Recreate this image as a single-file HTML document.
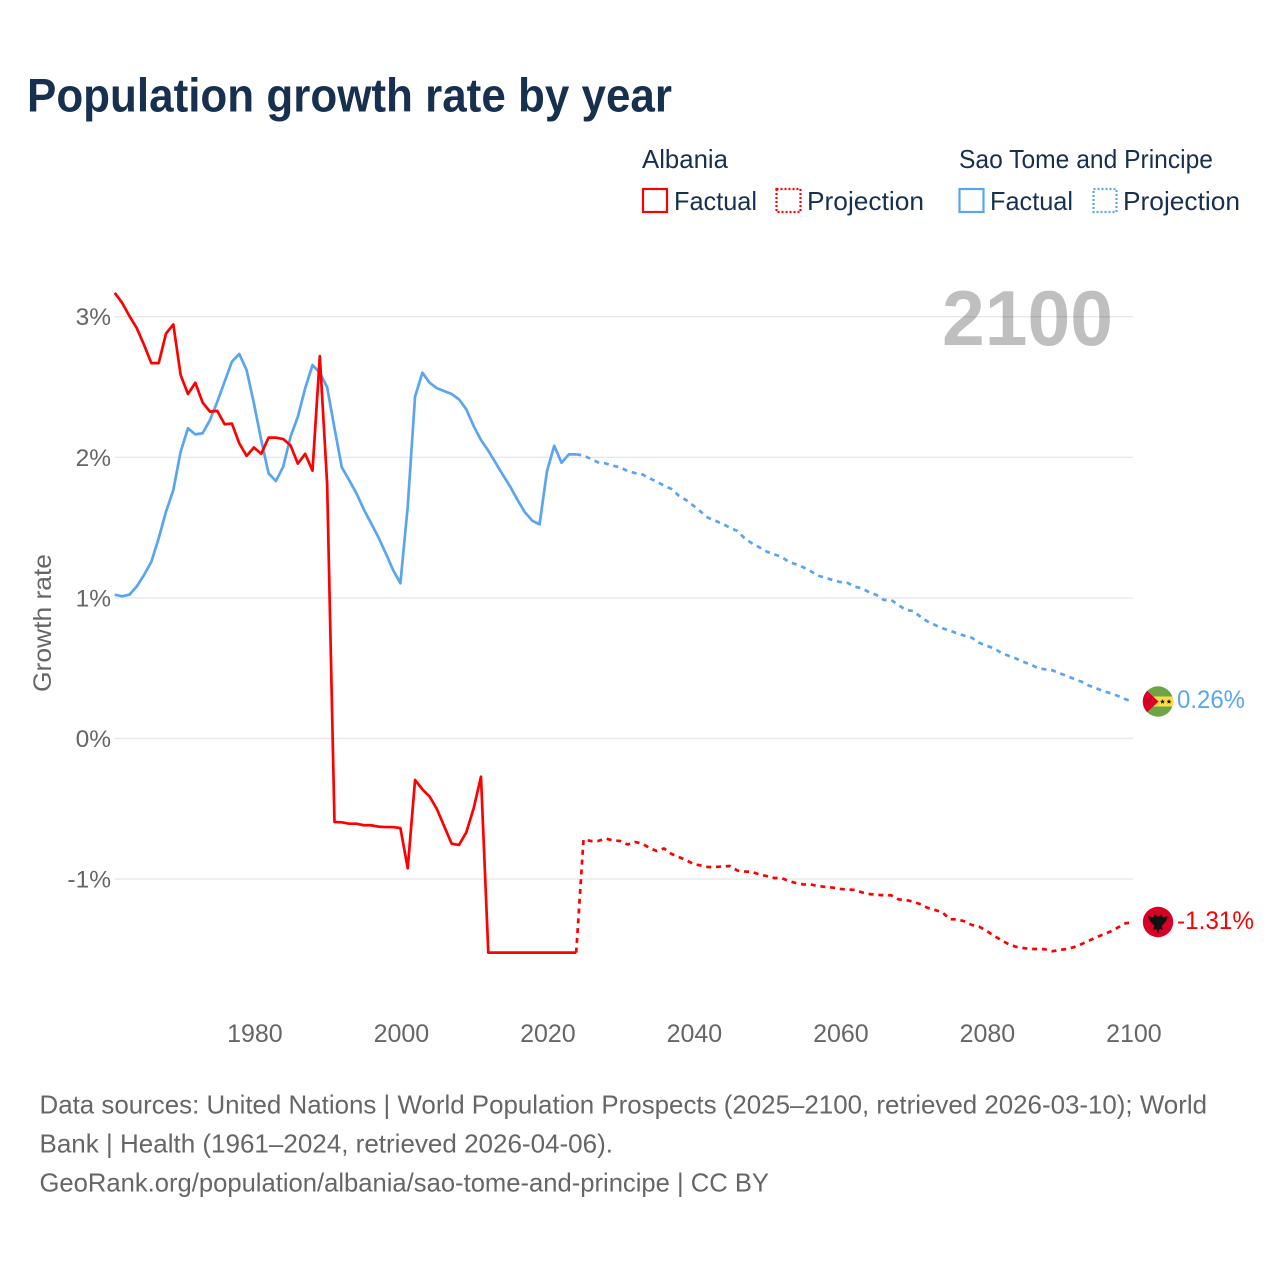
<!DOCTYPE html>
<html lang="en">
<head>
<meta charset="utf-8">
<title>Population growth rate by year</title>
<style>
html,body{margin:0;padding:0;background:#fff;}
svg{display:block;font-family:"Liberation Sans",sans-serif;}
</style>
</head>
<body>
<svg id="chart" xmlns="http://www.w3.org/2000/svg" width="1280" height="1280" viewBox="0 0 1280 1280">
  <rect width="1280" height="1280" fill="#fff"/>
  <text x="27" y="111.5" font-size="47" font-weight="700" fill="#18304f" textLength="645" lengthAdjust="spacingAndGlyphs">Population growth rate by year</text>

  <g font-size="26" fill="#18304f">
    <text x="642" y="168" textLength="86" lengthAdjust="spacingAndGlyphs">Albania</text>
    <text x="959" y="168" textLength="254" lengthAdjust="spacingAndGlyphs">Sao Tome and Principe</text>
    <g>
      <rect x="643" y="189" width="24" height="23" fill="none" stroke="#ff0000" stroke-width="2.2"/>
      <text x="674" y="210" textLength="83" lengthAdjust="spacingAndGlyphs">Factual</text>
    </g>
    <g>
      <rect x="776.5" y="189" width="24" height="23" fill="none" stroke="#ff0000" stroke-width="2.2" stroke-dasharray="2 2"/>
      <text x="807" y="210" textLength="117" lengthAdjust="spacingAndGlyphs">Projection</text>
    </g>
    <g>
      <rect x="959.5" y="189" width="24" height="23" fill="none" stroke="#5ba5ee" stroke-width="2.2"/>
      <text x="990" y="210" textLength="83" lengthAdjust="spacingAndGlyphs">Factual</text>
    </g>
    <g>
      <rect x="1093.5" y="189" width="23" height="23" fill="none" stroke="#5ba5ee" stroke-width="2.2" stroke-dasharray="2 2"/>
      <text x="1123" y="210" textLength="117" lengthAdjust="spacingAndGlyphs">Projection</text>
    </g>
  </g>

  <g id="grid"></g>
  <text x="942" y="345" font-size="78" font-weight="700" fill="#000" fill-opacity="0.25" textLength="171" lengthAdjust="spacingAndGlyphs">2100</text>
  <g id="yticks" font-size="24.5" fill="#666"></g>
  <g id="xticks" font-size="25" fill="#666"></g>
  <text transform="translate(51 692) rotate(-90)" font-size="25" fill="#666" textLength="138" lengthAdjust="spacingAndGlyphs">Growth rate</text>
  <g id="series"></g>

  <g id="flag-stp">
    <clipPath id="clip-stp"><circle cx="1158" cy="701.5" r="15.2"/></clipPath>
    <g clip-path="url(#clip-stp)">
      <rect x="1142" y="686" width="32" height="31" fill="#6da544"/>
      <rect x="1142" y="696.5" width="32" height="10" fill="#ffda44"/>
      <path d="M1142 686 L1158.5 701.5 L1142 717 Z" fill="#d80027"/>
      <path d="M1162.5 699.2 l.7 1.6 1.7.1 -1.3 1.1 .4 1.7 -1.5-.9 -1.5.9 .4-1.7 -1.3-1.1 1.7-.1z" fill="#111"/>
      <path d="M1169 699.2 l.7 1.6 1.7.1 -1.3 1.1 .4 1.7 -1.5-.9 -1.5.9 .4-1.7 -1.3-1.1 1.7-.1z" fill="#111"/>
    </g>
  </g>
  <g id="flag-alb">
    <circle cx="1158" cy="922" r="15.2" fill="#d80027"/>
    <path d="M1148 916 L1153 917.5 L1155 914 L1157 916.5 L1159 916.5 L1161 914 L1163 917.5 L1168 916 L1166 921 L1163.5 924 L1161.5 926 L1163 930 L1159.5 929 L1158 933.5 L1156.5 929 L1153 930 L1154.5 926 L1152.5 924 L1150 921 Z" fill="#111"/>
  </g>
  <text id="label-stp" x="1177" y="708" font-size="25" fill="#5ba5ee" textLength="68" lengthAdjust="spacingAndGlyphs">0.26%</text>
  <text id="label-alb" x="1177" y="929" font-size="25" fill="#ff0000" textLength="77" lengthAdjust="spacingAndGlyphs">-1.31%</text>

  <g font-size="26" fill="#666">
    <text x="39.5" y="1113.5" textLength="1167.5" lengthAdjust="spacingAndGlyphs">Data sources: United Nations | World Population Prospects (2025–2100, retrieved 2026-03-10); World</text>
    <text x="39.5" y="1152.5" textLength="573.5" lengthAdjust="spacingAndGlyphs">Bank | Health (1961–2024, retrieved 2026-04-06).</text>
    <text x="39.5" y="1191.5" textLength="729.5" lengthAdjust="spacingAndGlyphs">GeoRank.org/population/albania/sao-tome-and-principe | CC BY</text>
  </g>
</svg>
<script>
const yTickValues = [3, 2, 1, 0, -1];
const xTickYears = [1980, 2000, 2020, 2040, 2060, 2080, 2100];
const factualStartYear = 1961;
const projectionStartYear = 2024;
const albaniaFactual = [3.17,3.10,3.005,2.92,2.80,2.67,2.67,2.88,2.945,2.585,2.45,2.53,2.39,2.325,2.33,2.235,2.24,2.10,2.01,2.07,2.025,2.14,2.14,2.13,2.085,1.955,2.025,1.905,2.72,1.81,-0.594,-0.596,-0.606,-0.606,-0.617,-0.617,-0.627,-0.63,-0.63,-0.637,-0.923,-0.295,-0.361,-0.414,-0.504,-0.627,-0.748,-0.757,-0.667,-0.497,-0.272,-1.523,-1.523,-1.523,-1.523,-1.523,-1.523,-1.523,-1.523,-1.523,-1.523,-1.523,-1.523,-1.523];
const albaniaProjection = [-1.523,-0.718,-0.729,-0.729,-0.711,-0.725,-0.729,-0.754,-0.736,-0.747,-0.779,-0.800,-0.782,-0.821,-0.843,-0.864,-0.893,-0.903,-0.914,-0.914,-0.910,-0.907,-0.939,-0.946,-0.949,-0.967,-0.978,-0.992,-0.992,-1.013,-1.028,-1.038,-1.038,-1.049,-1.056,-1.060,-1.070,-1.074,-1.077,-1.094,-1.106,-1.111,-1.115,-1.115,-1.144,-1.149,-1.161,-1.179,-1.205,-1.220,-1.236,-1.286,-1.286,-1.300,-1.326,-1.338,-1.367,-1.402,-1.433,-1.462,-1.481,-1.490,-1.497,-1.497,-1.499,-1.513,-1.504,-1.497,-1.483,-1.462,-1.438,-1.414,-1.393,-1.371,-1.343,-1.314,-1.307];
const saoTomeFactual = [1.023,1.011,1.023,1.081,1.163,1.257,1.424,1.613,1.767,2.040,2.206,2.163,2.171,2.265,2.395,2.538,2.680,2.735,2.621,2.384,2.123,1.886,1.831,1.933,2.146,2.289,2.491,2.656,2.602,2.498,2.208,1.929,1.838,1.744,1.630,1.531,1.431,1.317,1.198,1.104,1.649,2.431,2.602,2.530,2.491,2.471,2.450,2.412,2.341,2.222,2.123,2.047,1.961,1.874,1.791,1.696,1.609,1.549,1.523,1.898,2.082,1.961,2.021,2.021];
const saoTomeProjection = [2.021,2.013,1.988,1.964,1.957,1.940,1.929,1.902,1.888,1.879,1.851,1.826,1.798,1.775,1.727,1.696,1.656,1.613,1.570,1.549,1.526,1.499,1.476,1.424,1.388,1.360,1.329,1.310,1.293,1.257,1.239,1.218,1.191,1.158,1.144,1.127,1.113,1.108,1.080,1.068,1.040,1.021,0.985,0.985,0.949,0.914,0.907,0.866,0.831,0.807,0.784,0.767,0.748,0.731,0.717,0.681,0.660,0.642,0.610,0.589,0.570,0.546,0.528,0.501,0.492,0.485,0.464,0.444,0.423,0.404,0.376,0.357,0.336,0.321,0.302,0.279,0.262];

const NS = 'http://www.w3.org/2000/svg';
const xScale = function (year) { return 253.9 + (year - 1980) * 7.325; };
const yScale = function (value) { return 738.5 - value * 140.6; };

const gridGroup = document.getElementById('grid');
const yTickGroup = document.getElementById('yticks');
const xTickGroup = document.getElementById('xticks');
const seriesGroup = document.getElementById('series');

yTickValues.forEach(function (value) {
  const line = document.createElementNS(NS, 'line');
  
  
  line.setAttribute('x1', xScale(1961));
  line.setAttribute('x2', xScale(2100));
  line.setAttribute('y1', yScale(value));
  line.setAttribute('y2', yScale(value));
  line.setAttribute('stroke', '#e8e8e8');
  line.setAttribute('stroke-width', '1.4');
  gridGroup.appendChild(line);

  const label = document.createElementNS(NS, 'text');
  
  
  label.setAttribute('x', 111);
  label.setAttribute('y', yScale(value) + 8.5);
  label.setAttribute('text-anchor', 'end');
  label.textContent = value + '%';
  yTickGroup.appendChild(label);
});

xTickYears.forEach(function (year) {
  const label = document.createElementNS(NS, 'text');
  
  
  label.setAttribute('x', xScale(year) + 1);
  label.setAttribute('y', 1042);
  label.setAttribute('text-anchor', 'middle');
  label.textContent = String(year);
  xTickGroup.appendChild(label);
});

function linePath(values, startYear) {
  return values.map(function (value, i) {
    return (i ? 'L' : 'M') + xScale(startYear + i).toFixed(2) + ' ' + yScale(value).toFixed(2);
  }).join(' ');
}

function addLine(values, startYear, color, dashed, name) {
  const path = document.createElementNS(NS, 'path');
  
  
  path.setAttribute('d', linePath(values, startYear));
  path.setAttribute('fill', 'none');
  path.setAttribute('stroke', color);
  path.setAttribute('stroke-width', '2.7');
  path.setAttribute('stroke-linejoin', 'round');
  if (dashed) {
    path.setAttribute('stroke-dasharray', '5 4.8');
  }
  seriesGroup.appendChild(path);
}

addLine(saoTomeFactual, factualStartYear, '#5ba5ee', false, 'line-sao-tome-factual');
addLine(saoTomeProjection, projectionStartYear, '#5ba5ee', true, 'line-sao-tome-projection');
addLine(albaniaFactual, factualStartYear, '#ff0000', false, 'line-albania-factual');
addLine(albaniaProjection, projectionStartYear, '#ff0000', true, 'line-albania-projection');
</script>
</body>
</html>
